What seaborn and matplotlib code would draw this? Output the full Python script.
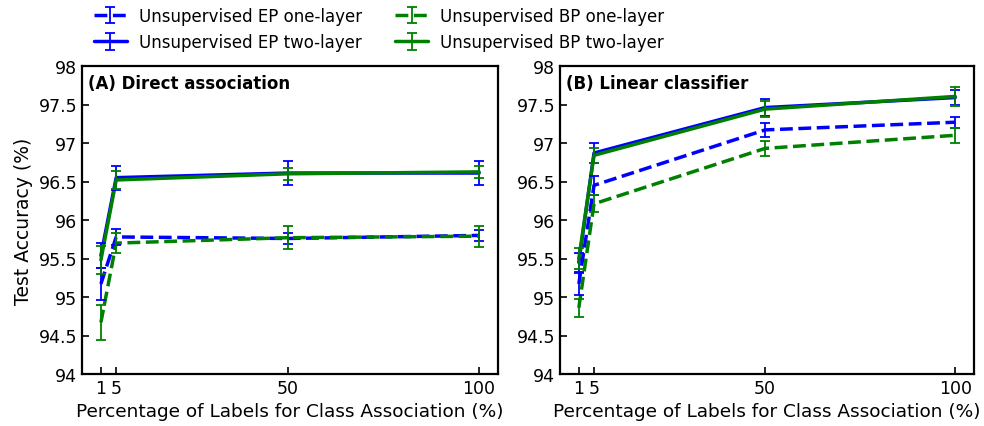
import numpy as np
import pandas as pd
import matplotlib
matplotlib.use("Agg")
import matplotlib.pyplot as plt
import seaborn as sns
from matplotlib.legend_handler import HandlerTuple
from matplotlib.lines import Line2D

sns.set_style("ticks")
plt.rcParams['font.family'] = ['DejaVu Sans']
plt.rcParams['text.color'] = 'black'
plt.rcParams['axes.labelcolor'] = 'black'
plt.rcParams['xtick.color'] = 'black'
plt.rcParams['ytick.color'] = 'black'
plt.rcParams['axes.edgecolor'] = 'black'

x_vals = [1, 5, 50, 100]
x_ticks = [1, 5, 50, 100]
y_ticks = [94, 94.5, 95, 95.5, 96, 96.5, 97, 97.5, 98]
y_ticklabels = ["94", "94.5", "95", "95.5", "96", "96.5", "97", "97.5", "98"]

series_names = ["Unsupervised EP one-layer", "Unsupervised EP two-layer",
                "Unsupervised BP one-layer", "Unsupervised BP two-layer"]

# (A) Direct association
a_ep1 = [95.17, 95.78, 95.76, 95.80]
a_ep1_err = [0.21, 0.10, 0.075, 0.07]
a_ep2 = [95.54, 96.55, 96.61, 96.61]
a_ep2_err = [0.16, 0.155, 0.15, 0.16]
a_bp1 = [94.67, 95.70, 95.77, 95.79]
a_bp1_err = [0.23, 0.13, 0.15, 0.135]
a_bp2 = [95.48, 96.52, 96.60, 96.625]
a_bp2_err = [0.18, 0.12, 0.075, 0.075]

# (B) Linear classifier
b_ep1 = [95.17, 96.45, 97.17, 97.27]
b_ep1_err = [0.14, 0.12, 0.09, 0.07]
b_ep2 = [95.45, 96.87, 97.46, 97.59]
b_ep2_err = [0.12, 0.125, 0.105, 0.10]
b_bp1 = [94.86, 96.21, 96.93, 97.10]
b_bp1_err = [0.12, 0.11, 0.10, 0.10]
b_bp2 = [95.50, 96.84, 97.44, 97.605]
b_bp2_err = [0.13, 0.10, 0.10, 0.125]

titles = ["(A) Direct association", "(B) Linear classifier"]
xlabel = "Percentage of Labels for Class Association (%)"
ylabel = "Test Accuracy (%)"

colors = ["blue", "blue", "green", "green"]
styles = ["--", "-", "--", "-"]

panels = [
    [(a_ep1, a_ep1_err), (a_ep2, a_ep2_err), (a_bp1, a_bp1_err), (a_bp2, a_bp2_err)],
    [(b_ep1, b_ep1_err), (b_ep2, b_ep2_err), (b_bp1, b_bp1_err), (b_bp2, b_bp2_err)],
]

fig = plt.figure(figsize=(9.84, 4.27), dpi=100)
ax1 = fig.add_axes([82/984, 1-375/427, 416/984, 308/427])
ax2 = fig.add_axes([560/984, 1-375/427, 414/984, 308/427])
axes = [ax1, ax2]

eb_handles = []
for pi, (ax, panel) in enumerate(zip(axes, panels)):
    for si, (vals, errs) in enumerate(panel):
        df = pd.DataFrame({"x": x_vals, "y": vals})
        sns.lineplot(data=df, x="x", y="y", ax=ax, color=colors[si],
                     linestyle=styles[si], linewidth=2.5, legend=False,
                     errorbar=None, zorder=2)
        eb = ax.errorbar(x_vals, vals, yerr=errs, fmt="none", ecolor=colors[si],
                         elinewidth=1.3, capsize=3.5, capthick=1.3, zorder=3)
        if pi == 0:
            eb_handles.append(eb)
    ax.set_ylim(94, 98)
    ax.set_xlim(-3.95, 104.95)
    ax.set_xticks(x_ticks)
    ax.set_xticklabels([str(v) for v in x_ticks])
    ax.set_yticks(y_ticks)
    ax.set_yticklabels(y_ticklabels)
    ax.tick_params(direction="in", length=5, width=1.2, labelsize=12.5,
                   top=False, right=False, colors="black")
    for s in ax.spines.values():
        s.set_visible(True)
        s.set_linewidth(1.6)
        s.set_color("black")
    ax.set_xlabel(xlabel, fontsize=13.3, color="black")
    ax.set_ylabel(ylabel if pi == 0 else "", fontsize=13.5, color="black")
    ax.text(0.015, 0.975, titles[pi], transform=ax.transAxes, fontsize=12,
            fontweight="bold", ha="left", va="top", color="black")

leg_handles = []
for si in range(4):
    ln = Line2D([], [], color=colors[si], linestyle=styles[si], linewidth=2.5)
    leg_handles.append((ln, eb_handles[si]))
fig.legend(leg_handles, series_names, loc="upper center",
           bbox_to_anchor=(0.385, 1.017), ncol=2, frameon=False, fontsize=12,
           handler_map={tuple: HandlerTuple(ndivide=1)}, columnspacing=2.0,
           labelspacing=0.5, handletextpad=0.7)

fig.savefig("out.png", dpi=100)
